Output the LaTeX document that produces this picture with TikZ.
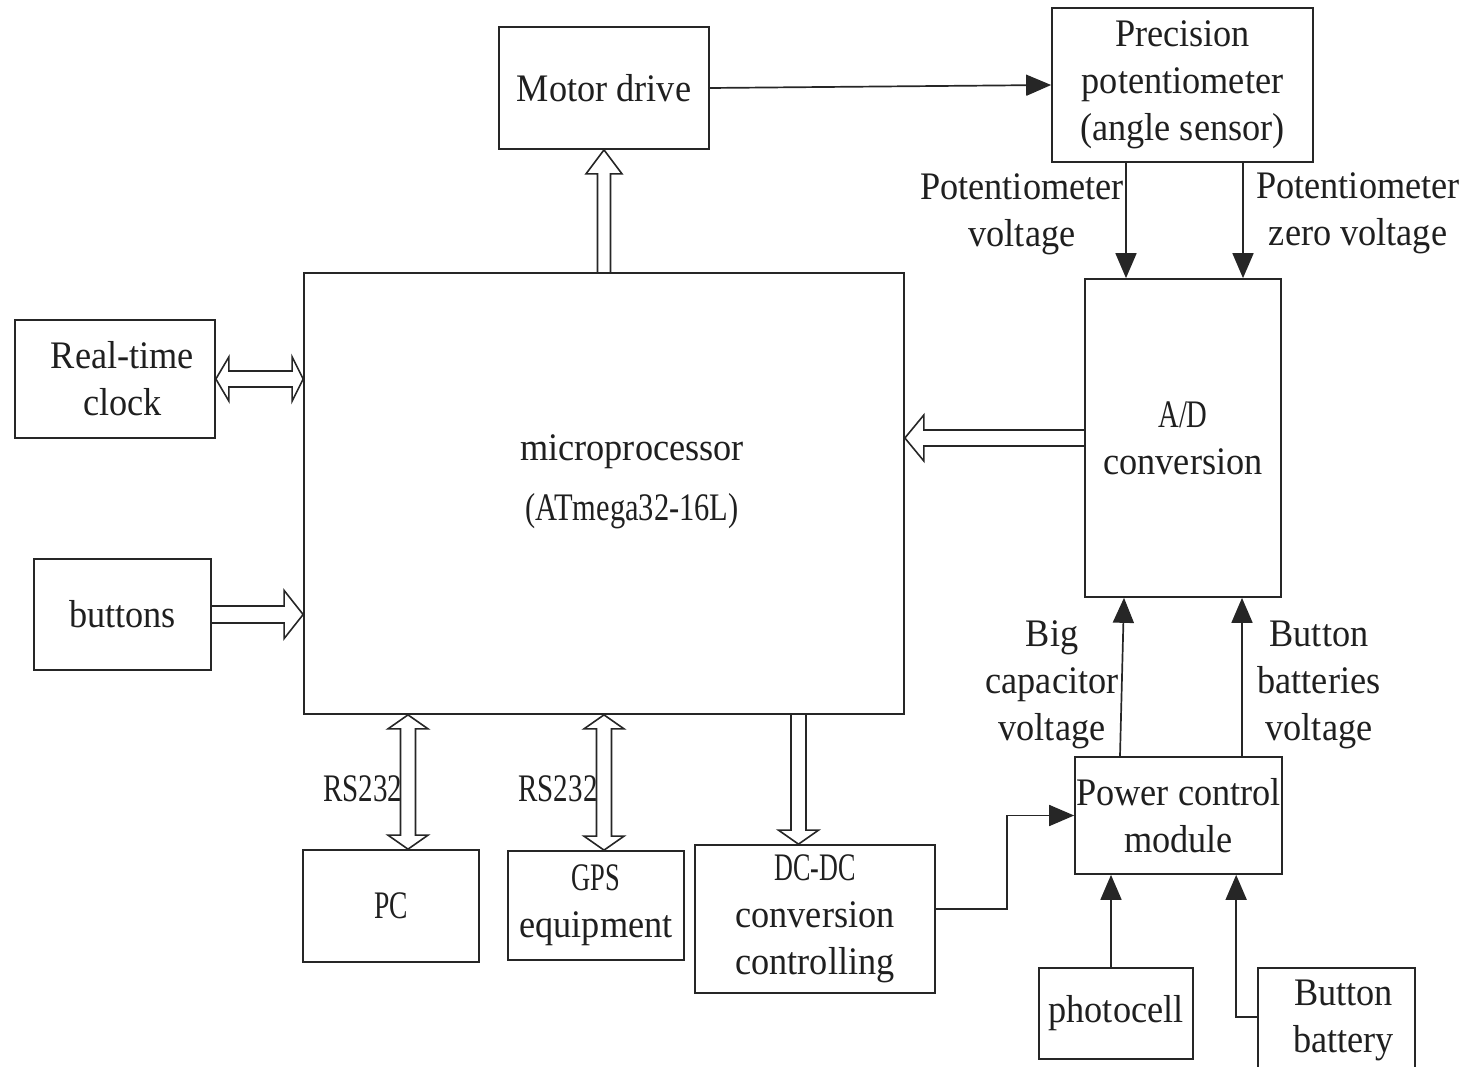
\documentclass[tikz,border=0pt]{standalone}
\usepackage{fontspec}
\usepackage{graphicx}
\setmainfont[FakeStretch=0.93]{Liberation Serif}
\usetikzlibrary{arrows.meta,calc}
\newcommand\nrw[2]{\scalebox{#1}[1]{#2}}
\begin{document}
\begin{tikzpicture}[x=1pt,y=-1pt,
  every node/.style={font=\fontsize{39}{47}\selectfont,align=center,inner sep=0pt,text=black!88},
  box/.style={draw=black!85,line width=1.7pt},
  txt/.style={},
  conn/.style={draw=black!85,line width=1.7pt,-{Triangle[length=25pt,width=21pt]}},
  hol/.style={draw=black!85,line width=1.6pt,line join=miter}]
\useasboundingbox (0,0) rectangle (1470,1067);
% boxes
\node[box,minimum width=210pt,minimum height=122pt] (motor) at (604,88) {Motor drive};
\node[box,minimum width=261pt,minimum height=154pt] (prec) at (1182.5,85) {Precision\\potentiometer\\(angle sensor)};
\node[box,minimum width=600pt,minimum height=441pt] (micro) at (604,493.5) {};
\node[txt] (microtext) at (632,482) {microprocessor\\[13pt]\nrw{0.84}{(ATmega32-16L)}};
\node[box,minimum width=200pt,minimum height=118pt] (rtc) at (115,379) {\hspace*{15pt}Real-time\\\hspace*{15pt}clock};
\node[box,minimum width=177pt,minimum height=111pt] (btns) at (122.5,614.5) {buttons};
\node[box,minimum width=196pt,minimum height=318pt] (ad) at (1183,438) {\nrw{0.79}{A/D}\\conversion};
\node[box,minimum width=207pt,minimum height=117pt] (pcm) at (1178.5,815.5) {Power control\\module};
\node[box,minimum width=176pt,minimum height=112pt] (pc) at (391,906) {\nrw{0.76}{PC}};
\node[box,minimum width=176pt,minimum height=109pt] (gps) at (596,905.5) {\nrw{0.73}{GPS}\\equipment};
\node[box,minimum width=240pt,minimum height=148pt] (dcdc) at (815,919) {\nrw{0.72}{DC-DC}\\conversion\\controlling};
\node[box,minimum width=154pt,minimum height=91pt] (photo) at (1116,1013.5) {photocell};
\node[box,minimum width=157pt,minimum height=104pt] (bbat) at (1336.5,1020) {\hspace*{14pt}Button\\\hspace*{14pt}battery};
% labels
\node[txt] (lpv) at (1022,214) {Potentiometer\\voltage};
\node[txt] (lpz) at (1358,213) {Potentiometer\\zero voltage};
\node[txt] (lbc) at (1052,685) {Big\\capacitor\\voltage};
\node[txt] (lbb) at (1319,685) {Button\\batteries\\voltage};
\node[txt] (rs1) at (363,789) {\nrw{0.8}{RS232}};
\node[txt] (rs2) at (558,789) {\nrw{0.8}{RS232}};
% plain connectors
\draw[conn] (motor.east) -- (prec.west);
\coordinate (p1s) at ($(prec.south)+(-56.5,0)$);
\coordinate (p2s) at ($(prec.south)+(60.5,0)$);
\draw[conn] (p1s) -- (p1s |- ad.north);
\draw[conn] (p2s) -- (p2s |- ad.north);
\coordinate (q1s) at ($(pcm.north)+(-58.5,0)$);
\coordinate (q2s) at ($(pcm.north)+(63.5,0)$);
\coordinate (q1e) at ($(q1s |- ad.south)+(4,0)$);
\draw[conn] (q1s) -- (q1e);
\draw[conn] (q2s) -- (q2s |- ad.south);
\coordinate (de) at ($(dcdc.east)+(0,-10)$);
\draw[conn] (de) -- ++(71,0) |- (pcm.west);
\coordinate (ph) at ($(photo.north)+(-5,0)$);
\draw[conn] (ph) -- (ph |- pcm.south);
\coordinate (bw) at ($(bbat.west)+(0,-3)$);
\coordinate (bk) at ($(bw)+(-21,0)$);
\draw[conn] (bw) -- (bk) -- (bk |- pcm.south);
% hollow arrows
\draw[hol] ($(micro.north)+(-6.5,0)$) -- ($(motor.south)+(-6.5,24)$) -- ($(motor.south)+(-18,24)$) -- (motor.south) -- ($(motor.south)+(18,24)$) -- ($(motor.south)+(6.5,24)$) -- ($(micro.north)+(6.5,0)$);
\coordinate (ra) at (rtc.east);
\coordinate (rb) at (rtc.east -| micro.west);
\draw[hol] (ra) -- ($(ra)+(13,-22)$) -- ($(ra)+(13,-8)$) -- ($(rb)+(-11,-8)$) -- ($(rb)+(-11,-22)$) -- (rb) -- ($(rb)+(-11,22)$) -- ($(rb)+(-11,8)$) -- ($(ra)+(13,8)$) -- ($(ra)+(13,22)$) -- cycle;
\coordinate (ba) at (btns.east);
\coordinate (bb) at (btns.east -| micro.west);
\draw[hol] ($(ba)+(0,-8.5)$) -- ($(bb)+(-19,-8.5)$) -- ($(bb)+(-19,-24)$) -- (bb) -- ($(bb)+(-19,24)$) -- ($(bb)+(-19,8.5)$) -- ($(ba)+(0,8.5)$);
\coordinate (aa) at (ad.west);
\coordinate (ab) at (ad.west -| micro.east);
\draw[hol] ($(aa)+(0,-8)$) -- ($(ab)+(19,-8)$) -- ($(ab)+(19,-23)$) -- (ab) -- ($(ab)+(19,23)$) -- ($(ab)+(19,8)$) -- ($(aa)+(0,8)$);
\coordinate (pa) at ($(pc.north)+(17,0)$);
\coordinate (pb) at (pa |- micro.south);
\draw[hol] (pb) -- ($(pb)+(20,14)$) -- ($(pb)+(7.5,14)$) -- ($(pa)+(7.5,-14)$) -- ($(pa)+(20,-14)$) -- (pa) -- ($(pa)+(-20,-14)$) -- ($(pa)+(-7.5,-14)$) -- ($(pb)+(-7.5,14)$) -- ($(pb)+(-20,14)$) -- cycle;
\coordinate (ga) at ($(gps.north)+(8,0)$);
\coordinate (gb) at (ga |- micro.south);
\draw[hol] (gb) -- ($(gb)+(20,14)$) -- ($(gb)+(7.5,14)$) -- ($(ga)+(7.5,-14)$) -- ($(ga)+(20,-14)$) -- (ga) -- ($(ga)+(-20,-14)$) -- ($(ga)+(-7.5,-14)$) -- ($(gb)+(-7.5,14)$) -- ($(gb)+(-20,14)$) -- cycle;
\coordinate (da) at ($(dcdc.north)+(-16.5,0)$);
\coordinate (db) at (da |- micro.south);
\draw[hol] ($(db)+(-7.5,0)$) -- ($(da)+(-7.5,-14)$) -- ($(da)+(-20,-14)$) -- (da) -- ($(da)+(20,-14)$) -- ($(da)+(7.5,-14)$) -- ($(db)+(7.5,0)$);
\end{tikzpicture}
\end{document}
